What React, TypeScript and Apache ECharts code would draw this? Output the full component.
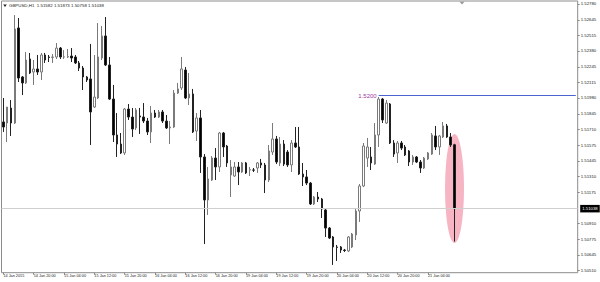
import React, { useEffect, useRef } from "react";
import * as echarts from "echarts";

const titleText = "GBPUSD,H1  1.51582 1.51873 1.50758 1.51038";

const xTickLabels = [
  "14 Jan 2015", "14 Jan 20:00", "15 Jan 04:00", "15 Jan 12:00", "15 Jan 20:00",
  "16 Jan 04:00", "16 Jan 12:00", "16 Jan 20:00", "19 Jan 04:00", "19 Jan 12:00",
  "19 Jan 20:00", "20 Jan 04:00", "20 Jan 12:00", "20 Jan 20:00", "21 Jan 04:00",
];
const barsPerXTick = 8;

const yTickValues = [
  1.5278, 1.52645, 1.52515, 1.5238, 1.52245, 1.52115, 1.5198, 1.51845, 1.5171,
  1.51575, 1.51445, 1.5131, 1.51175, 1.5091, 1.50775, 1.50645, 1.5051,
];
const yMin = 1.50493;
const yMax = 1.528055;

// 120 hourly bars plus empty chart-shift slots on the right
const slotCount = 152;

const opens = [
  1.51776, 1.51767, 1.51895, 1.51767, 1.52576, 1.52159, 1.52108, 1.52312, 1.52201, 1.52227,
  1.52201, 1.52346, 1.52329, 1.52325, 1.52329, 1.52405, 1.52329, 1.52329, 1.52337, 1.52329,
  1.52278, 1.52235, 1.52159, 1.52142, 1.51903, 1.5198, 1.5232, 1.52508, 1.52261, 1.51971,
  1.51665, 1.51588, 1.51512, 1.51886, 1.51818, 1.51725, 1.51827, 1.51818, 1.51784, 1.51691,
  1.51852, 1.51818, 1.51861, 1.51784, 1.51725, 1.51733, 1.52022, 1.52065, 1.52218, 1.5198,
  1.52014, 1.51699, 1.5181, 1.51478, 1.51112, 1.51282, 1.51469, 1.51393, 1.51682, 1.51571,
  1.51325, 1.51316, 1.51393, 1.5135, 1.51427, 1.51367, 1.51367, 1.51384, 1.51427, 1.5141,
  1.51282, 1.5152, 1.51631, 1.51427, 1.51588, 1.5152, 1.5141, 1.51597, 1.51563, 1.51333,
  1.51308, 1.51256, 1.51078, 1.51137, 1.5112, 1.51027, 1.50873, 1.50797, 1.50712, 1.50712,
  1.50686, 1.50678, 1.50712, 1.50814, 1.51018, 1.51231, 1.51469, 1.51478, 1.51418, 1.51665,
  1.51971, 1.51767, 1.51929, 1.51597, 1.51512, 1.51597, 1.51563, 1.51529, 1.51435, 1.51478,
  1.51435, 1.51384, 1.51461, 1.51503, 1.51657, 1.51563, 1.51648, 1.51742, 1.51648, 1.51582,
];
const closes = [
  1.51733, 1.51903, 1.51767, 1.52567, 1.5215, 1.52108, 1.52303, 1.52193, 1.52227, 1.52201,
  1.52346, 1.52303, 1.52325, 1.52329, 1.52405, 1.52329, 1.5233, 1.52333, 1.5232, 1.52278,
  1.52235, 1.52159, 1.52133, 1.51861, 1.51988, 1.52329, 1.52508, 1.52261, 1.51971, 1.51665,
  1.51588, 1.51512, 1.51886, 1.51818, 1.51716, 1.51878, 1.51818, 1.51784, 1.51691, 1.51852,
  1.51818, 1.51861, 1.51784, 1.51725, 1.51733, 1.52022, 1.52057, 1.52227, 1.5198, 1.52014,
  1.51691, 1.5181, 1.51478, 1.51112, 1.51291, 1.51469, 1.51393, 1.51682, 1.51563, 1.51427,
  1.51393, 1.51393, 1.5135, 1.51427, 1.51342, 1.51371, 1.51366, 1.51427, 1.5141, 1.51282,
  1.51529, 1.51631, 1.51435, 1.51588, 1.51418, 1.5141, 1.51597, 1.51563, 1.51333, 1.51308,
  1.51256, 1.51078, 1.51137, 1.5112, 1.51035, 1.50873, 1.50788, 1.50712, 1.50708, 1.50686,
  1.50682, 1.50797, 1.50822, 1.51018, 1.51231, 1.51571, 1.51563, 1.51427, 1.51665, 1.51971,
  1.51793, 1.51937, 1.51597, 1.51503, 1.51597, 1.51554, 1.51495, 1.51435, 1.51478, 1.51435,
  1.51384, 1.51469, 1.51512, 1.51665, 1.51563, 1.51657, 1.51742, 1.51648, 1.5158, 1.51038,
];
const lows = [
  1.51691, 1.51605, 1.51657, 1.51759, 1.52116, 1.52005, 1.52099, 1.52184, 1.52091, 1.52176,
  1.52133, 1.52278, 1.52286, 1.52278, 1.52312, 1.52312, 1.52312, 1.5232, 1.52286, 1.52269,
  1.5221, 1.52048, 1.52116, 1.5158, 1.51895, 1.51971, 1.52303, 1.52252, 1.51963, 1.51605,
  1.51478, 1.51503, 1.51495, 1.51793, 1.51648, 1.51708, 1.51674, 1.51767, 1.51665, 1.51597,
  1.5181, 1.5181, 1.51767, 1.51716, 1.51588, 1.51725, 1.52014, 1.52048, 1.51971, 1.5192,
  1.51682, 1.51614, 1.51342, 1.50737, 1.50984, 1.51274, 1.51282, 1.5135, 1.51478, 1.51393,
  1.51137, 1.51308, 1.51239, 1.51342, 1.51333, 1.51316, 1.5135, 1.51342, 1.51384, 1.51171,
  1.51265, 1.51495, 1.51418, 1.51401, 1.51401, 1.51393, 1.5135, 1.51554, 1.51325, 1.51231,
  1.51239, 1.51069, 1.51069, 1.51095, 1.50959, 1.50797, 1.5078, 1.50559, 1.50593, 1.50661,
  1.50669, 1.50669, 1.50703, 1.50771, 1.50925, 1.51222, 1.51393, 1.51367, 1.5141, 1.51563,
  1.51767, 1.51759, 1.51588, 1.51478, 1.51427, 1.51537, 1.51486, 1.51401, 1.5141, 1.51427,
  1.51342, 1.51376, 1.51452, 1.51495, 1.51537, 1.51495, 1.5164, 1.5164, 1.51563, 1.50758,
];
const highs = [
  1.5198, 1.51903, 1.51963, 1.52686, 1.52661, 1.52167, 1.52371, 1.52363, 1.52303, 1.52346,
  1.52363, 1.52363, 1.52346, 1.52354, 1.52448, 1.52414, 1.52388, 1.52397, 1.52405, 1.52346,
  1.52295, 1.52252, 1.52167, 1.5244, 1.52346, 1.52618, 1.52593, 1.52669, 1.52329, 1.52091,
  1.51852, 1.51682, 1.51895, 1.51929, 1.51895, 1.51895, 1.51895, 1.51937, 1.5181, 1.51912,
  1.51878, 1.51878, 1.51878, 1.51835, 1.51784, 1.52048, 1.52108, 1.52329, 1.52244, 1.52193,
  1.52057, 1.51852, 1.51878, 1.51503, 1.51393, 1.51486, 1.51554, 1.51691, 1.51691, 1.5158,
  1.51452, 1.51435, 1.51435, 1.51435, 1.51435, 1.51393, 1.51384, 1.51435, 1.51461, 1.51427,
  1.5158, 1.51767, 1.51657, 1.51648, 1.51622, 1.51537, 1.51622, 1.51733, 1.51733, 1.51427,
  1.51367, 1.51265, 1.51146, 1.5118, 1.51129, 1.51035, 1.50882, 1.50805, 1.50729, 1.5072,
  1.50695, 1.50805, 1.50831, 1.51035, 1.51248, 1.51597, 1.5164, 1.51563, 1.51767, 1.51988,
  1.5198, 1.51963, 1.51937, 1.51622, 1.51614, 1.51614, 1.5158, 1.51537, 1.51495, 1.51486,
  1.51452, 1.51478, 1.5152, 1.51682, 1.51742, 1.51665, 1.51776, 1.51759, 1.51682, 1.5159,
];

const currentPrice = 1.51038;
const levelPrice = 1.52;
const levelLabel = "1.5200";
const levelStartIndex = 99;
const highlightPoint = [119, 1.5121];

const isXTick = (i: number) => i % barsPerXTick === 0 && i / barsPerXTick < xTickLabels.length;

export default function App() {
  const ref = useRef<HTMLDivElement>(null);
  useEffect(() => {
    if (!ref.current) return;
    const chart = echarts.init(ref.current, undefined, { renderer: "svg" });
    const categories = Array.from({ length: slotCount }, (_, i) => String(i));
    const candles = opens.map((o, i) => [o, closes[i], lows[i], highs[i]]);
    const font = "Liberation Sans, Arial, sans-serif";
    chart.setOption({
      animation: false,
      backgroundColor: "#ffffff",
      title: {
        text: titleText,
        left: 9,
        top: 3.4,
        padding: 0,
        textStyle: { fontSize: 4.4, fontWeight: "normal", color: "#222", fontFamily: font },
      },
      graphic: [
        { type: "polygon", shape: { points: [[3.2, 4.6], [6.8, 4.6], [5, 7]] }, style: { fill: "#222" } },
        { type: "polygon", shape: { points: [[459.5, 1.8], [464.5, 1.8], [462, 4.6]] }, style: { fill: "#999" } },
      ],
      grid: {
        left: 1.5,
        right: 22.3,
        top: 1,
        bottom: 9.3,
        show: true,
        borderColor: "#8c8c8c",
        borderWidth: 1,
        backgroundColor: "#ffffff",
      },
      xAxis: {
        type: "category",
        data: categories,
        boundaryGap: true,
        axisLine: { show: false },
        axisTick: {
          show: true,
          alignWithLabel: true,
          interval: (i: number) => isXTick(i),
          length: 2,
          lineStyle: { color: "#888" },
        },
        axisLabel: {
          interval: (i: number) => isXTick(i),
          formatter: (_v: string, i: number) => xTickLabels[i / barsPerXTick] ?? "",
          align: "left",
          fontSize: 3.8,
          margin: 1.6,
          color: "#222",
          fontFamily: font,
        },
        splitLine: { show: false },
      },
      yAxis: {
        type: "value",
        position: "right",
        min: yMin,
        max: yMax,
        scale: true,
        axisLine: { show: false },
        splitLine: { show: false },
        axisTick: { show: true, length: 2, customValues: yTickValues, lineStyle: { color: "#888" } },
        axisLabel: {
          customValues: yTickValues,
          formatter: (v: number) => v.toFixed(5),
          fontSize: 4.3,
          margin: 3,
          color: "#222",
          fontFamily: font,
        },
      },
      series: [
        {
          type: "line",
          z: 0,
          silent: true,
          data: [],
          markLine: {
            silent: true,
            precision: 5,
            symbol: ["none", "none"],
            animation: false,
            data: [
              {
                yAxis: currentPrice,
                lineStyle: { color: "#cfcfcf", width: 1, type: "solid" },
                label: {
                  show: true,
                  position: "end",
                  distance: 2.5,
                  formatter: currentPrice.toFixed(5),
                  backgroundColor: "#000",
                  color: "#fff",
                  fontSize: 4.3,
                  padding: [2, 2, 1.5, 2],
                  fontFamily: font,
                },
              },
            ],
          },
        },
        {
          type: "scatter",
          z: 1,
          silent: true,
          symbol: "circle",
          symbolSize: [19, 109],
          itemStyle: { color: "#f7b5c3", opacity: 1 },
          data: [highlightPoint],
        },
        {
          type: "candlestick",
          z: 3,
          barWidth: 2,
          data: candles,
          itemStyle: {
            color: "#ffffff",
            color0: "#000000",
            borderColor: "#7a7a7a",
            borderColor0: "#222222",
            borderColorDoji: "#555555",
            borderWidth: 1,
          },
          markLine: {
            silent: true,
            precision: 5,
            symbol: ["none", "none"],
            animation: false,
            data: [
              [
                {
                  coord: [levelStartIndex, levelPrice],
                  lineStyle: { color: "#4a63cf", width: 1, type: "solid" },
                  label: {
                    show: true,
                    position: "start",
                    distance: 2,
                    formatter: levelLabel,
                    color: "#a03aa6",
                    fontSize: 6,
                    fontFamily: font,
                  },
                },
                { coord: [slotCount - 1, levelPrice] },
              ],
            ],
          },
        },
      ],
    });
    return () => chart.dispose();
  }, []);
  return (
    <div
      ref={ref}
      style={{ position: "fixed", left: 0, top: 0, width: 600, height: 282, background: "#fff" }}
    />
  );
}
